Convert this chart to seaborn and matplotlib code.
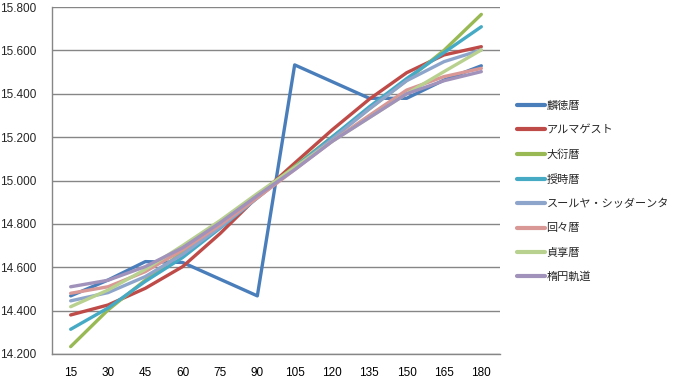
import numpy as np
import pandas as pd
import matplotlib
matplotlib.use("Agg")
import matplotlib.pyplot as plt
import matplotlib.ticker as ticker
import seaborn as sns

# data
x_vals = [15, 30, 45, 60, 75, 90, 105, 120, 135, 150, 165, 180]
series_names = ["麟徳暦", "アルマゲスト", "大衍暦", "授時暦",
                "スールヤ・シッダーンタ", "回々暦", "貞享暦", "楕円軌道"]

lintoku = [14.468, 14.541, 14.626, 14.622, 14.545, 14.468, 15.533, 15.456, 15.379, 15.379, 15.463, 15.529]
almagest = [14.380, 14.426, 14.503, 14.603, 14.755, 14.925, 15.080, 15.233, 15.375, 15.497, 15.579, 15.617]
taien = [14.234, 14.403, 14.541, 14.670, 14.800, 14.930, 15.065, 15.200, 15.330, 15.462, 15.600, 15.766]
juji = [14.314, 14.412, 14.535, 14.645, 14.780, 14.920, 15.060, 15.200, 15.340, 15.470, 15.590, 15.709]
surya = [14.445, 14.483, 14.557, 14.660, 14.785, 14.920, 15.058, 15.190, 15.330, 15.460, 15.548, 15.602]
kaikai = [14.480, 14.510, 14.580, 14.680, 14.795, 14.920, 15.050, 15.180, 15.300, 15.417, 15.479, 15.517]
jokyo = [14.418, 14.495, 14.590, 14.700, 14.815, 14.940, 15.060, 15.180, 15.290, 15.400, 15.502, 15.602]
daen = [14.510, 14.540, 14.603, 14.690, 14.805, 14.930, 15.050, 15.180, 15.290, 15.400, 15.460, 15.502]

y_ticks = [14.2, 14.4, 14.6, 14.8, 15.0, 15.2, 15.4, 15.6, 15.8]

colors = ["#4A7EBB", "#BE4B48", "#98B954", "#46AAC5",
          "#8EA5CB", "#D99795", "#B9D18F", "#A092BB"]

all_series = [lintoku, almagest, taien, juji, surya, kaikai, jokyo, daen]
df = pd.concat(
    [pd.DataFrame({"x": x_vals, "value": vals, "series": name})
     for name, vals in zip(series_names, all_series)],
    ignore_index=True)

sns.set_style("white")
plt.rcParams["font.family"] = ["Noto Sans CJK JP", "DejaVu Sans"]

fig = plt.figure(figsize=(6.73, 3.79), dpi=100)
ax = fig.add_axes([52 / 673, 1 - 354 / 379, 448 / 673, 347 / 379])

sns.lineplot(data=df, x="x", y="value", hue="series", hue_order=series_names,
             palette=colors, linewidth=2.4, ax=ax, legend=True)

ax.set_xlim(7.5, 187.5)
ax.set_ylim(14.2, 15.8)
ax.set_xlabel("")
ax.set_ylabel("")

# x labels centered on categories, tick marks on boundaries (Excel style)
ax.xaxis.set_major_locator(ticker.FixedLocator(x_vals))
ax.xaxis.set_minor_locator(ticker.FixedLocator([7.5 + 15 * i for i in range(13)]))
ax.tick_params(axis="x", which="major", length=0, pad=9, labelsize=8.5, colors="black")
ax.tick_params(axis="x", which="minor", length=5, color="#868686", direction="out")
ax.set_yticks(y_ticks)
ax.yaxis.set_major_formatter(ticker.FormatStrFormatter("%.3f"))
ax.tick_params(axis="y", length=5, color="#868686", direction="out", pad=6, labelsize=8.5)
for lbl in ax.get_xticklabels() + ax.get_yticklabels():
    lbl.set_family("Liberation Sans")

ax.grid(axis="y", color="#868686", linewidth=1)
ax.set_axisbelow(True)
for side in ["top", "right"]:
    ax.spines[side].set_visible(False)
for side in ["left", "bottom"]:
    ax.spines[side].set_color("#868686")
    ax.spines[side].set_linewidth(1)

leg = ax.legend(loc="upper left", bbox_to_anchor=(517 / 673, 1 - 101 / 379),
                bbox_transform=fig.transFigure, frameon=False, fontsize=8,
                handlelength=2.5, handletextpad=0.15, labelspacing=1.27,
                borderaxespad=0, borderpad=0)
for line in leg.get_lines():
    line.set_linewidth(3)

fig.savefig("out.png", dpi=100)
